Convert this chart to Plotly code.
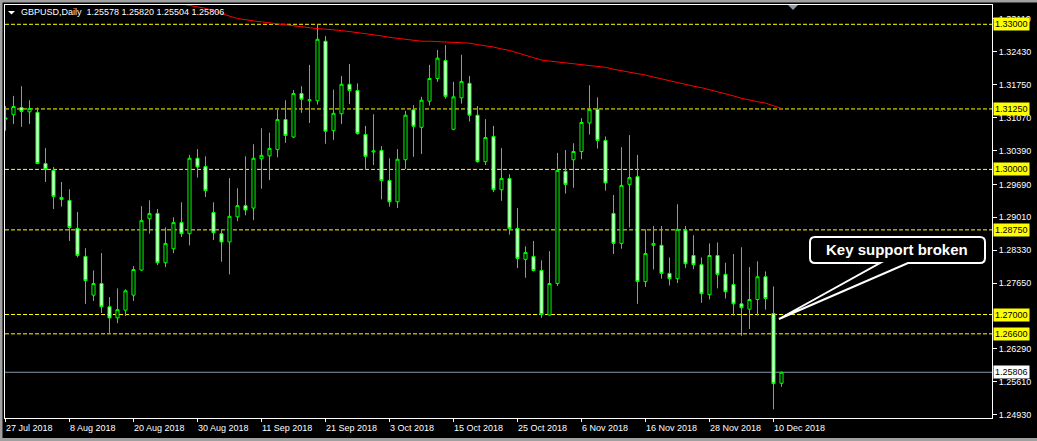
import pandas as pd
import plotly.graph_objects as go

# ---------------- data ----------------
dates = pd.bdate_range("2018-07-27", "2018-12-11")

opens = [1.3104, 1.3113, 1.3128, 1.3119, 1.3118, 1.3012, 1.2998, 1.2942, 1.2936, 1.2878,
         1.2820, 1.2740, 1.2764, 1.2716, 1.2693, 1.2709, 1.2740, 1.2792, 1.2898, 1.2909,
         1.2807, 1.2836, 1.2890, 1.2867, 1.3023, 1.3006, 1.2911, 1.2867, 1.2850, 1.2902,
         1.2925, 1.2920, 1.3022, 1.3028, 1.3041, 1.3103, 1.3067, 1.3157, 1.3142, 1.3142,
         1.3265, 1.3080, 1.3115, 1.3176, 1.3163, 1.3072, 1.3036, 1.3039, 1.2977, 1.2933,
         1.3020, 1.3123, 1.3087, 1.3141, 1.3188, 1.3225, 1.3083, 1.3148, 1.3178, 1.3112,
         1.3016, 1.3068, 1.2958, 1.2981, 1.2878, 1.2814, 1.2820, 1.2791, 1.2699, 1.2764,
         1.2996, 1.3020, 1.3037, 1.3096, 1.3124, 1.3060, 1.2909, 1.2847, 1.2969, 1.2985,
         1.2768, 1.2843, 1.2843, 1.2785, 1.2774, 1.2874, 1.2822, 1.2803, 1.2741, 1.2822,
         1.2783, 1.2762, 1.2722, 1.2711, 1.2731, 1.2778, 1.2702, 1.25578]
highs = [1.3131, 1.3152, 1.3172, 1.3143, 1.3128, 1.3044, 1.3005, 1.2974, 1.2959, 1.2912,
         1.2837, 1.2791, 1.2827, 1.2736, 1.2754, 1.2752, 1.2800, 1.2924, 1.2936, 1.2918,
         1.2880, 1.2901, 1.2932, 1.3030, 1.3042, 1.3027, 1.2932, 1.2876, 1.2982, 1.2961,
         1.3027, 1.3052, 1.3085, 1.3076, 1.3123, 1.3143, 1.3164, 1.3172, 1.3216, 1.3299,
         1.3276, 1.3165, 1.3193, 1.3218, 1.3178, 1.3090, 1.3114, 1.3048, 1.3023, 1.3042,
         1.3121, 1.3133, 1.3150, 1.3216, 1.3247, 1.3257, 1.3181, 1.3237, 1.3193, 1.3131,
         1.3104, 1.3090, 1.3044, 1.2990, 1.2920, 1.2841, 1.2852, 1.2812, 1.2831, 1.3034,
         1.3040, 1.3054, 1.3106, 1.3174, 1.3149, 1.3068, 1.2947, 1.3046, 1.3071, 1.3030,
         1.2876, 1.2883, 1.2883, 1.2818, 1.2928, 1.2883, 1.2864, 1.2818, 1.2847, 1.2849,
         1.2807, 1.2825, 1.2839, 1.2798, 1.2810, 1.2789, 1.2758, 1.25820]
lows = [1.3080, 1.3094, 1.3088, 1.3094, 1.3011, 1.2974, 1.2918, 1.2923, 1.2852, 1.2818,
        1.2722, 1.2728, 1.2703, 1.2662, 1.2682, 1.2697, 1.2728, 1.2790, 1.2867, 1.2802,
        1.2798, 1.2827, 1.2860, 1.2843, 1.2983, 1.2943, 1.2854, 1.2809, 1.2783, 1.2893,
        1.2905, 1.2895, 1.2960, 1.2978, 1.3025, 1.3055, 1.3065, 1.3117, 1.3096, 1.3134,
        1.3053, 1.3061, 1.3094, 1.3135, 1.3072, 1.2999, 1.3009, 1.2938, 1.2923, 1.2920,
        1.3001, 1.3026, 1.3032, 1.3132, 1.3181, 1.3146, 1.3081, 1.3136, 1.3099, 1.3014,
        1.3009, 1.2953, 1.2935, 1.2865, 1.2796, 1.2776, 1.2789, 1.2693, 1.2698, 1.2759,
        1.2950, 1.2962, 1.3021, 1.3072, 1.3043, 1.2956, 1.2825, 1.2836, 1.2880, 1.2722,
        1.2757, 1.2793, 1.2774, 1.2760, 1.2765, 1.2796, 1.2794, 1.2724, 1.2731, 1.2754,
        1.2733, 1.2698, 1.2656, 1.2670, 1.2698, 1.2710, 1.2504, 1.25504]
closes = [1.3106, 1.3130, 1.3120, 1.3126, 1.3012, 1.3000, 1.2944, 1.2938, 1.2880, 1.2822,
          1.2770, 1.2764, 1.2716, 1.2693, 1.2710, 1.2749, 1.2793, 1.2894, 1.2909, 1.2807,
          1.2847, 1.2890, 1.2867, 1.3023, 1.3005, 1.2956, 1.2869, 1.2850, 1.2903, 1.2925,
          1.2916, 1.3023, 1.3029, 1.3043, 1.3103, 1.3070, 1.3157, 1.3145, 1.3144, 1.3269,
          1.3079, 1.3116, 1.3176, 1.3163, 1.3074, 1.3027, 1.3038, 1.2977, 1.2933, 1.3021,
          1.3112, 1.3089, 1.3143, 1.3188, 1.3230, 1.3151, 1.3150, 1.3182, 1.3112, 1.3016,
          1.3066, 1.2958, 1.2981, 1.2878, 1.2816, 1.2828, 1.2791, 1.2700, 1.2764, 1.2998,
          1.2969, 1.3037, 1.3097, 1.3124, 1.3060, 1.2972, 1.2847, 1.2967, 1.2983, 1.2768,
          1.2826, 1.2847, 1.2785, 1.2774, 1.2876, 1.2805, 1.2803, 1.2743, 1.2822, 1.2783,
          1.2747, 1.2722, 1.2714, 1.2731, 1.2778, 1.2733, 1.2557, 1.25806]

ma_start = 22
ma_values = [1.3342, 1.3339, 1.3336, 1.3333, 1.3328, 1.3322, 1.3317, 1.3312, 1.3309, 1.3307,
             1.3305, 1.3303, 1.3301, 1.3299, 1.3297, 1.3294, 1.3292, 1.3291, 1.3290, 1.3289,
             1.3287, 1.3285, 1.3283, 1.3281, 1.3279, 1.3276, 1.3273, 1.3271, 1.3268, 1.3266,
             1.3265, 1.3265, 1.3264, 1.3263, 1.3262, 1.3262, 1.3261, 1.3258, 1.3256, 1.3253,
             1.3249, 1.3246, 1.3241, 1.3236, 1.3232, 1.3226, 1.3224, 1.3222, 1.3220, 1.3219,
             1.3217, 1.3215, 1.3213, 1.3211, 1.3207, 1.3204, 1.3201, 1.3199, 1.3195, 1.3191,
             1.3187, 1.3183, 1.3179, 1.3176, 1.3172, 1.3169, 1.3165, 1.3160, 1.3156, 1.3152,
             1.3147, 1.3143, 1.3140, 1.3137, 1.3132, 1.3126]

levels = [1.33000, 1.31250, 1.30000, 1.28750, 1.27000, 1.26600]
price_ticks = [1.33110, 1.32430, 1.31750, 1.31070, 1.30390, 1.29690, 1.29010,
               1.28330, 1.27650, 1.26290, 1.25610, 1.24930]
date_ticks = ["2018-07-27", "2018-08-08", "2018-08-20", "2018-08-30", "2018-09-11",
              "2018-09-21", "2018-10-03", "2018-10-15", "2018-10-25", "2018-11-06",
              "2018-11-16", "2018-11-28", "2018-12-10"]
symbol_title = "GBPUSD,Daily"
callout_text = "Key support broken"

# ---------------- helpers ----------------
W, H = 1037, 441
PL, PR, PT, PB = 5, 992, 5, 418
BAR_PX = 8.0
X0 = -0.0625                       # candle 0 centred on a pixel centre
X1 = X0 + (PR - PL) / BAR_PX


def fx(px):
    return (px - PL) / (PR - PL)


def fy(py):
    return (PB - py) / (PB - PT)


def P(x, y):
    return f"{fx(x):.5f},{fy(y):.5f}"


GREEN = "#00FF00"
FONT = "Liberation Sans, Arial, sans-serif"

x = list(range(len(dates)))

fig = go.Figure()

fig.add_trace(go.Candlestick(
    x=x, open=opens, high=highs, low=lows, close=closes,
    increasing=dict(fillcolor="#000000", line=dict(color=GREEN, width=1)),
    decreasing=dict(fillcolor="#FFFFFF", line=dict(color=GREEN, width=1)),
    whiskerwidth=0, showlegend=False, hoverinfo="skip"))

# moving average
fig.add_trace(go.Scatter(x=list(range(ma_start, ma_start + len(ma_values))), y=ma_values,
                         mode="lines", line=dict(color="#FF0000", width=1),
                         showlegend=False, hoverinfo="skip"))

shapes = []
annotations = []

# horizontal levels
for lv in levels:
    shapes.append(dict(type="line", xref="paper", yref="y", x0=0, x1=1, y0=lv, y1=lv,
                       line=dict(color="#FFFF00", width=1, dash="4px,2px"), layer="below"))
    annotations.append(dict(xref="paper", yref="y", x=1, y=lv, xanchor="left", yanchor="middle",
                            xshift=1, text=f"{lv:.5f}", showarrow=False, bgcolor="#FFFF00",
                            borderpad=1, font=dict(color="#000000", size=9, family=FONT)))

# current price line
last = closes[-1]
shapes.append(dict(type="line", xref="paper", yref="y", x0=0, x1=1, y0=last, y1=last,
                   line=dict(color="#8797A8", width=1), layer="below"))
annotations.append(dict(xref="paper", yref="y", x=1, y=last, xanchor="left", yanchor="middle",
                        xshift=1, text=f"{last:.5f}", showarrow=False, bgcolor="#FFFFFF",
                        borderpad=1, font=dict(color="#000000", size=9, family=FONT)))

# date labels
for d in date_ticks:
    dt = pd.Timestamp(d)
    pos = dates.get_loc(dt)
    annotations.append(dict(xref="x", yref="paper", x=pos, y=0, xanchor="left", yanchor="top",
                            xshift=-2, yshift=-3, showarrow=False,
                            text=f"{dt.day} {dt.strftime('%b %Y')}",
                            font=dict(color="#FFFFFF", size=9, family=FONT)))

# title
annotations.append(dict(xref="paper", yref="paper", x=fx(19), y=fy(12.5), xanchor="left",
                        yanchor="middle", showarrow=False,
                        text=f"{symbol_title}  {opens[-1]:.5f} {highs[-1]:.5f} {lows[-1]:.5f} {closes[-1]:.5f}",
                        font=dict(color="#FFFFFF", size=9, family=FONT)))
shapes.append(dict(type="path", xref="paper", yref="paper",
                   path=f"M {P(8,11)} L {P(15,11)} L {P(11.5,14.5)} Z",
                   fillcolor="#FFFFFF", line=dict(width=0)))

# shift marker
shapes.append(dict(type="path", xref="paper", yref="paper",
                   path=f"M {P(788,5)} L {P(798,5)} L {P(793,10)} Z",
                   fillcolor="#8C9AA8", line=dict(width=0)))

# callout
callout = (f"M {P(815,237)} L {P(980,237)} Q {P(985,237)} {P(985,242)} L {P(985,258)} "
           f"Q {P(985,263)} {P(980,263)} L {P(908,263)} L {P(779,319)} L {P(880,263)} "
           f"L {P(815,263)} Q {P(810,263)} {P(810,258)} L {P(810,242)} Q {P(810,237)} {P(815,237)} Z")
shapes.append(dict(type="path", xref="paper", yref="paper", path=callout,
                   fillcolor="#000000", line=dict(color="#FFFFFF", width=2)))
annotations.append(dict(xref="paper", yref="paper", x=fx(897), y=fy(249.5), xanchor="center",
                        yanchor="middle", showarrow=False, text=f"<b>{callout_text}</b>",
                        font=dict(color="#FFFFFF", size=15, family=FONT)))

# outer window frame
frame = "#A0A0A0"
shapes += [
    dict(type="rect", xref="paper", yref="paper", x0=fx(0), x1=fx(W), y0=fy(0), y1=fy(2.5),
         fillcolor=frame, line=dict(width=0)),
    dict(type="rect", xref="paper", yref="paper", x0=fx(0), x1=fx(2.5), y0=fy(0), y1=fy(H),
         fillcolor=frame, line=dict(width=0)),
    dict(type="rect", xref="paper", yref="paper", x0=fx(0), x1=fx(W), y0=fy(438), y1=fy(H),
         fillcolor=frame, line=dict(width=0)),
]

fig.update_layout(
    width=W, height=H,
    margin=dict(l=PL, r=W - PR, t=PT, b=H - PB),
    paper_bgcolor="#000000", plot_bgcolor="#000000",
    shapes=shapes, annotations=annotations,
    boxgap=0.45, showlegend=False,
    xaxis=dict(range=[X0, X1], showgrid=False, zeroline=False, rangeslider=dict(visible=False),
               showline=True, mirror=True, linecolor="#FFFFFF", linewidth=1,
               tickmode="array", tickvals=[dates.get_loc(pd.Timestamp(d)) for d in date_ticks],
               showticklabels=False, ticks="outside", ticklen=3, tickcolor="#FFFFFF"),
    yaxis=dict(range=[1.24860, 1.33399], side="right", showgrid=False, zeroline=False,
               showline=True, mirror=True, linecolor="#FFFFFF", linewidth=1,
               tickmode="array", tickvals=price_ticks, ticktext=[f"{v:.5f}" for v in price_ticks],
               ticks="outside", ticklen=4, tickcolor="#FFFFFF",
               tickfont=dict(color="#FFFFFF", size=9, family=FONT)),
)

fig.write_html("out.html", config={"displayModeBar": False},
               post_script="document.body.style.margin='0px';document.body.style.background='#000';")
